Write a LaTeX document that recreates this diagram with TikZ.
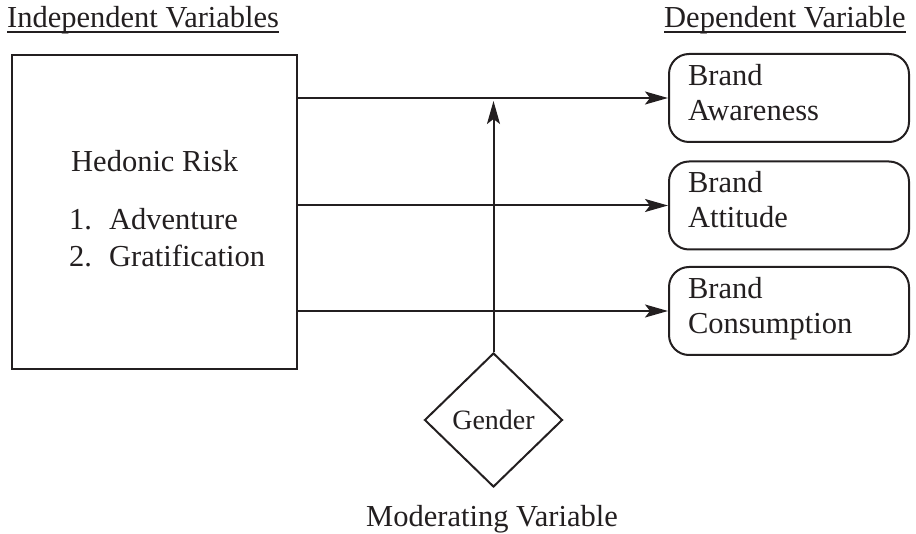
\documentclass[tikz,border=0pt]{standalone}
\usepackage{fontspec}
\setmainfont{Liberation Serif}
\usetikzlibrary{arrows.meta,shapes.geometric}
\definecolor{ink}{RGB}{35,31,32}
\begin{document}
\begin{tikzpicture}[x=1pt,y=-1pt,
  every node/.style={text=ink, inner sep=0pt, font=\fontsize{30.5}{35}\selectfont},
  thickline/.style={draw=ink, line width=2pt},
  arr/.style={thickline, -{Stealth[length=23pt,width=13pt,inset=5pt]}},
  mainbox/.style={thickline, minimum width=285pt, minimum height=314pt},
  dvbox/.style={thickline, rounded corners=20pt, minimum width=240pt, minimum height=88pt,
    text width=202pt, inner xsep=19pt, inner ysep=0pt, align=left,
    text height=20pt, text depth=45pt},
  modbox/.style={thickline, diamond, minimum width=138pt, minimum height=134pt,
    font=\fontsize{28}{33}\selectfont},
  ]
\useasboundingbox (0,0) rectangle (916,534);

% headings
\node[anchor=base west] (iv) at (7,28) {Independent Variables};
\draw[ink, line width=1.8pt] ([yshift=-4pt]iv.base west) -- ([yshift=-4pt]iv.base east);
\node[anchor=base west] (dv) at (664,28) {Dependent Variable};
\draw[ink, line width=1.8pt] ([yshift=-4pt]dv.base west) -- ([yshift=-4pt]dv.base east);

% independent variable box
\node[mainbox] (mr) at (154.5,212) {};
\node[anchor=base west] (hr) at (71,172) {Hedonic Risk};
\node[anchor=base west] (i1) at (69,230) {\makebox[40pt][l]{1.}Adventure};
\node[anchor=base west] (i2) at (69,267) {\makebox[40pt][l]{2.}Gratification};

% dependent variables
\node[dvbox] (aw) at (789,98) {Brand\\Awareness};
\node[dvbox] (at) at (789,205.5) {Brand\\Attitude};
\node[dvbox] (co) at (789,311) {Brand\\Consumption};

% moderator
\node[modbox] (g) at (493.5,420) {Gender};
\node[anchor=base] (mv) at (492,526) {Moderating Variable};

% connectors
\draw[arr] (mr.east |- aw.west) -- (aw.west);
\draw[arr] (mr.east |- at.west) -- (at.west);
\draw[arr] (mr.east |- co.west) -- (co.west);
\draw[arr] (g.north) -- ([yshift=-3pt]g.north |- aw.west);
\end{tikzpicture}
\end{document}
